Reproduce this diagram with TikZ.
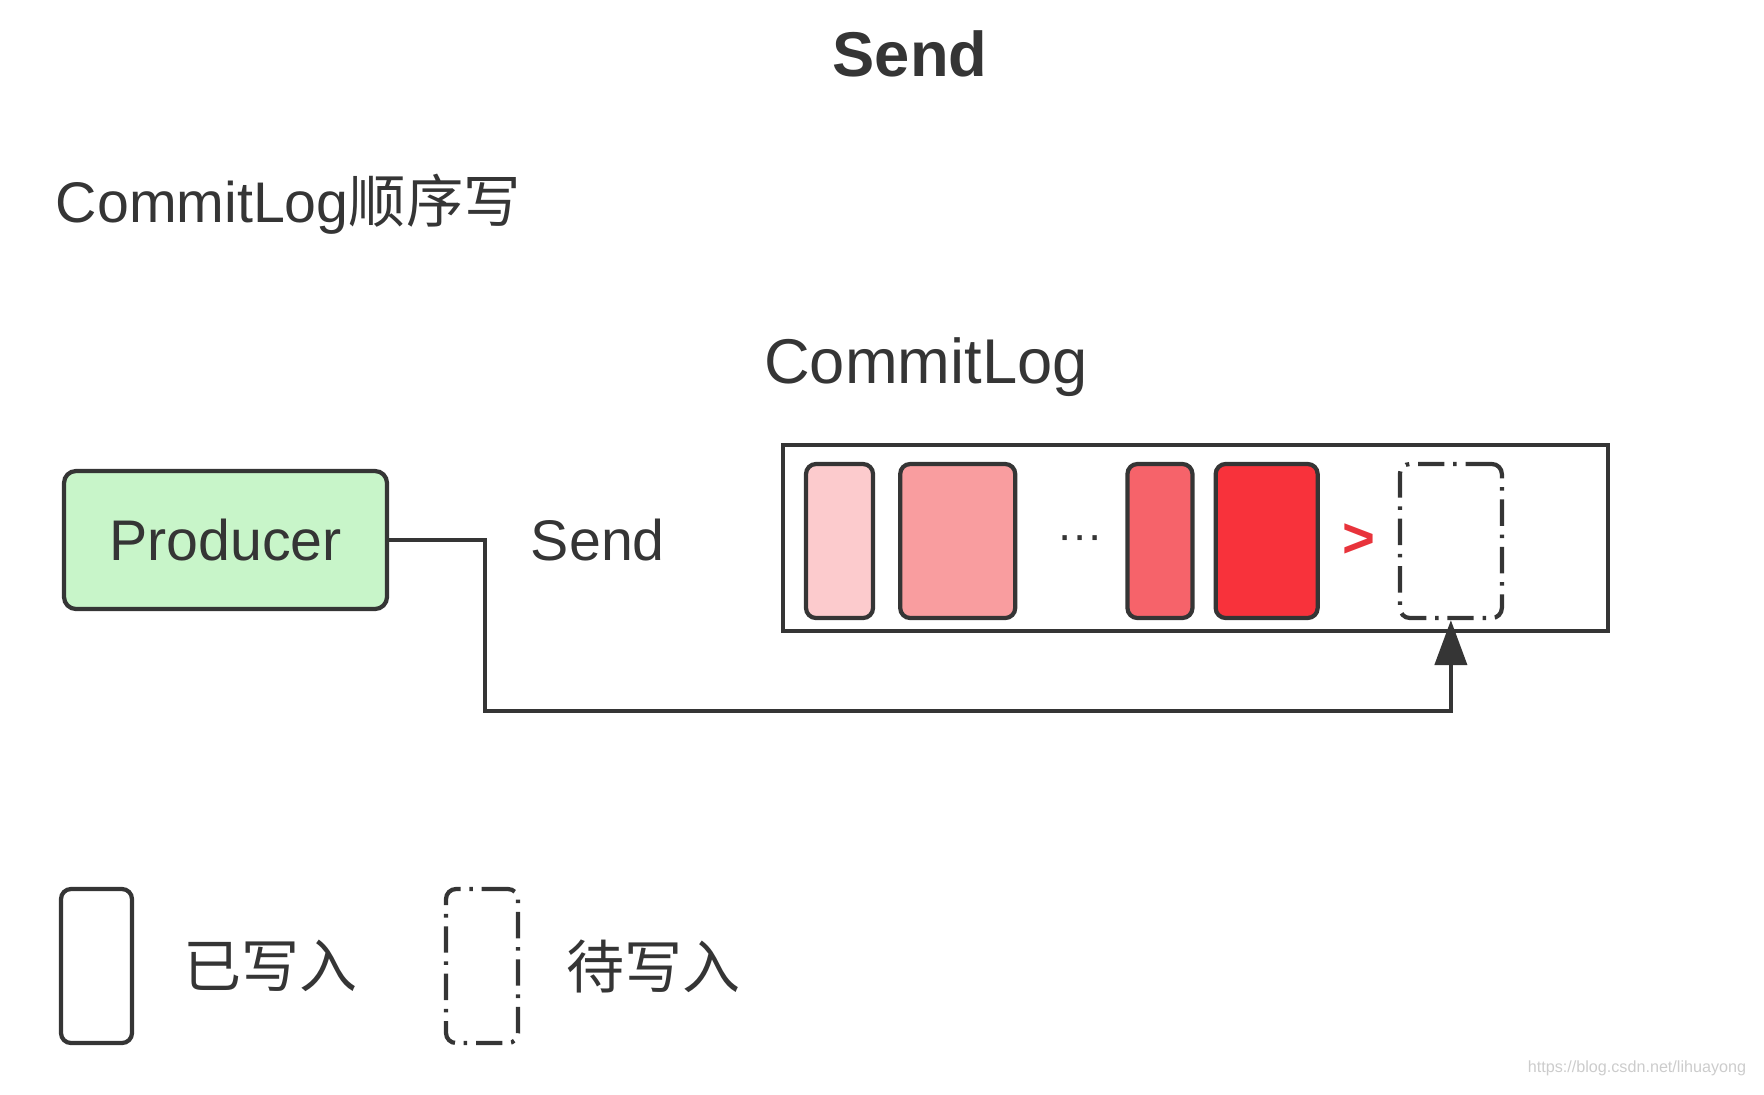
\documentclass[tikz,border=0pt]{standalone}
\usepackage{fontspec}
\setmainfont{Liberation Sans}
\newfontfamily\cjk{Noto Sans CJK SC}
\usetikzlibrary{positioning,arrows.meta,calc}
\definecolor{ink}{HTML}{353535}
\definecolor{prodgreen}{HTML}{C8F5C9}
\definecolor{logA}{HTML}{FCCBCD}
\definecolor{logB}{HTML}{F99D9F}
\definecolor{logC}{HTML}{F6636A}
\definecolor{logD}{HTML}{F8323B}
\definecolor{gtred}{HTML}{E8333B}

\begin{document}
\begin{tikzpicture}[line width=1.2pt,draw=ink,text=ink,font=\fontsize{16.3}{19}\selectfont,
	prod/.style={draw=ink,fill=prodgreen,rounded corners=1.2mm,minimum width=3.23cm,minimum height=1.38cm},
	logbox/.style={draw=ink,minimum width=8.25cm,minimum height=1.86cm},
	blk/.style={draw=ink,rounded corners=1mm,minimum height=1.54cm},
	waitblk/.style={draw=ink,rounded corners=1mm,minimum height=1.54cm,dash pattern=on 7.5pt off 2.5pt on 1pt off 2.5pt},
	conn/.style={draw=ink,-{Triangle[length=4.5mm,width=3.2mm]}}]
	\useasboundingbox (0,0) rectangle (17.64,-10.94);
	\node[font=\bfseries\fontsize{18}{22}\selectfont] (title) at (9.1,-0.54) {Send};
	\node[anchor=base west] (subtitle) at (0.42,-2.22) {CommitLog{\cjk 顺序写}};
	\node[anchor=base,font=\fontsize{18}{22}\selectfont] (logname) at (9.26,-3.83) {CommitLog};
	
	\node[prod] (prod) at (2.255,-5.40) {Producer};
	\node[right=1.28cm of prod] (sendlbl) {Send};
	
	\node[logbox] (log) at (11.955,-5.38) {};
	\node[blk,fill=logA,minimum width=6.7mm] (b1) at (8.395,-5.41) {};
	\node[blk,fill=logB,minimum width=11.5mm,right=2.3mm of b1] (b2) {};
	\node[blk,fill=logC,minimum width=6.5mm,right=10.8mm of b2] (b3) {};
	\node[blk,fill=logD,minimum width=10.2mm,right=1.9mm of b3] (b4) {};
	\node[waitblk,minimum width=10.2mm,right=7.8mm of b4] (wait) {};
	\node[font=\fontsize{13}{15}\selectfont] (dots) at ($(b2.east)!0.5!(b3.west)+(0.09,-0.02)$) {···};
	\node[text=gtred,font=\bfseries\fontsize{16}{19}\selectfont] (gt) at ($(b4.east)!0.5!(wait.west)$) {>};
	
	\coordinate (turn) at (4.85,-7.11);
	\draw[conn] (prod.east) -| (turn) -| (wait.south);
	
	\node[blk,minimum width=7.1mm] (lgdone) at (0.965,-9.66) {};
	\node[right=0.36cm of lgdone,font=\cjk\fontsize{16.5}{19}\selectfont] (lgdonetxt) {已写入};
	\node[waitblk,minimum width=7.2mm] (lgwait) at (4.82,-9.66) {};
	\node[right=0.33cm of lgwait,font=\cjk\fontsize{16.5}{19}\selectfont] (lgwaittxt) {待写入};
	
	\node[anchor=south east,text=gray!40,font=\fontsize{4.6}{5}\selectfont] (mark) at (17.6,-10.9) {https://blog.csdn.net/lihuayong};
\end{tikzpicture}
\end{document}
